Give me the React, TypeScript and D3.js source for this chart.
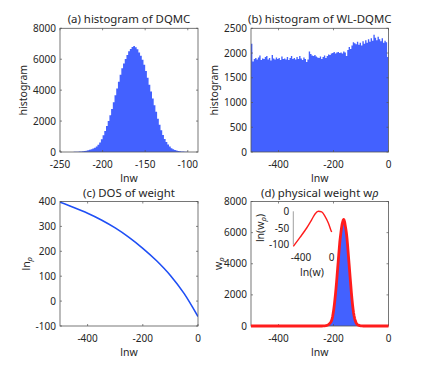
import * as d3 from "d3";
import React from "react";

// (a) DQMC histogram: bins of width 2 starting at -240
const histAStart = -240;
const histAWidth = 2;
const histACounts = [
  3, 5, 8, 11, 15, 20, 26, 35, 48, 66, 85, 112, 145, 180, 222, 275, 350, 470,
  620, 830, 1080, 1360, 1680, 2010, 2380, 2780, 3220, 3670, 4110, 4550, 4990,
  5420, 5720, 6020, 6280, 6510, 6660, 6790, 6850, 6780, 6640, 6430, 6220, 5960,
  5640, 5240, 4800, 4350, 3910, 3460, 3020, 2600, 2150, 1760, 1400, 1100, 840,
  640, 480, 350, 250, 180, 130, 95, 70, 52, 40, 28, 18, 12, 7, 4, 2,
];

// (b) WL-DQMC histogram: bins of width 5 from -500 to 0
const histBStart = -500;
const histBWidth = 5;
const histBCounts = [
  2190, 1830, 1880, 1900, 1870, 1910, 1950, 1860, 1890, 1880, 1920, 1940, 1870,
  1900, 1850, 1960, 1890, 1870, 1910, 1880, 1900, 1860, 1930, 1880, 1890, 1870,
  1920, 1860, 1900, 1940, 1880, 1900, 1870, 1920, 1880, 1940, 1890, 1860, 1910,
  1880, 1820, 1870, 2030, 1980, 1950, 1940, 1960, 1930, 1910, 1900, 1930, 1880,
  1920, 1950, 1900, 1940, 1970, 1960, 1990, 2000, 2020, 1990, 2010, 2020, 2000,
  2010, 1990, 2030, 2010, 1940, 2060, 2120, 2080, 2150, 2220, 2200, 2180, 2230,
  2170, 2210, 2150, 2240, 2190, 2260, 2210, 2280, 2230, 2300, 2250, 2370, 2310,
  2260, 2330, 2280, 2240, 2300, 2210, 2250, 2220, 1920,
];

// (c) DOS of weight
const dosLnw = [-500, -450, -400, -350, -300, -250, -200, -150, -100, -50, 0];
const dosLnRho = [397, 376, 353, 326, 294, 256, 212, 162, 103, 30, -62];

// (d) inset ln(w rho)
const insetLnw = [-500, -413, -326, -260, -217, -174, -130, -87, -44, -13, 0];
const insetLnWRho = [-105, -78, -50, -25, -8, 0, -2, -15, -35, -55, -62];

const ticksA = { x: [-250, -200, -150, -100], y: [0, 2000, 4000, 6000, 8000] };
const ticksB = { x: [-400, -200, 0], y: [0, 500, 1000, 1500, 2000, 2500] };
const ticksC = { x: [-400, -200, 0], y: [-100, 0, 100, 200, 300, 400] };
const ticksD = { x: [-400, -200, 0], y: [0, 2000, 4000, 6000, 8000] };
const ticksInset = { x: [-400, 0], y: [-100, -50, 0] };

const FONT = "'Noto Sans', 'Open Sans', sans-serif";
const TXT = "#262626";
const AX = "#555";
const BLUE_FILL = "#4361ff";
const BLUE_LINE = "#1f4ff5";
const RED = "#ff1c1c";

type Scale = d3.ScaleLinear<number, number>;

type PanelProps = {
  x0: number;
  x1: number;
  y0: number;
  y1: number;
  xDomain: [number, number];
  yDomain: [number, number];
  ticks: { x: number[]; y: number[] };
  title: React.ReactNode;
  ylabel: React.ReactNode;
  ylabelX: number;
  children: (x: Scale, y: Scale) => React.ReactNode;
  id: string;
};

function Panel(p: PanelProps) {
  const x = d3.scaleLinear().domain(p.xDomain).range([p.x0, p.x1]);
  const y = d3.scaleLinear().domain(p.yDomain).range([p.y1, p.y0]);
  const tl = 2;
  const cx = (p.x0 + p.x1) / 2;
  const cy = (p.y0 + p.y1) / 2;
  return (
    <g>
      <defs>
        <clipPath id={p.id}>
          <rect x={p.x0} y={p.y0} width={p.x1 - p.x0} height={p.y1 - p.y0} />
        </clipPath>
      </defs>
      <g clipPath={`url(#${p.id})`}>{p.children(x, y)}</g>
      <rect
        x={p.x0}
        y={p.y0}
        width={p.x1 - p.x0}
        height={p.y1 - p.y0}
        fill="none"
        stroke={AX}
        strokeWidth={0.8}
      />
      {p.ticks.x.map((t) => (
        <g key={"x" + t}>
          <line x1={x(t)} x2={x(t)} y1={p.y1} y2={p.y1 - tl} stroke={AX} strokeWidth={0.7} />
          <line x1={x(t)} x2={x(t)} y1={p.y0} y2={p.y0 + tl} stroke={AX} strokeWidth={0.7} />
          <text x={x(t)} y={p.y1 + 16} textAnchor="middle" fontSize={10} fill={TXT}>
            {t}
          </text>
        </g>
      ))}
      {p.ticks.y.map((t) => (
        <g key={"y" + t}>
          <line x1={p.x0} x2={p.x0 + tl} y1={y(t)} y2={y(t)} stroke={AX} strokeWidth={0.7} />
          <line x1={p.x1} x2={p.x1 - tl} y1={y(t)} y2={y(t)} stroke={AX} strokeWidth={0.7} />
          <text
            x={p.x0 - 4}
            y={y(t)}
            dy="0.35em"
            textAnchor="end"
            fontSize={10}
            fill={TXT}
          >
            {t}
          </text>
        </g>
      ))}
      <text x={cx} y={p.y0 - 5} textAnchor="middle" fontSize={11.4} fill={TXT}>
        {p.title}
      </text>
      <text x={cx} y={p.y1 + 30} textAnchor="middle" fontSize={10.5} fill={TXT}>
        lnw
      </text>
      <text
        transform={`translate(${p.ylabelX},${cy}) rotate(-90)`}
        textAnchor="middle"
        dy="0.35em"
        fontSize={10.5}
        fill={TXT}
      >
        {p.ylabel}
      </text>
    </g>
  );
}

// histogram drawn as one stepped area so neighbouring bins leave no seams
function Bars({
  start,
  width,
  counts,
  x,
  y,
}: {
  start: number;
  width: number;
  counts: number[];
  x: Scale;
  y: Scale;
}) {
  const pts: [number, number][] = counts.map((c, i) => [start + i * width, c]);
  pts.push([start + counts.length * width, counts[counts.length - 1]]);
  const area = d3
    .area<[number, number]>()
    .x((d) => x(d[0]))
    .y0(y(0))
    .y1((d) => y(d[1]))
    .curve(d3.curveStepAfter);
  return <path d={area(pts) || ""} fill={BLUE_FILL} />;
}

export default function App() {
  const redPts: [number, number][] = [
    [-500, 0],
    [histAStart - 1, 0],
    ...histACounts.map((c, i) => [histAStart + (i + 0.5) * histAWidth, c] as [number, number]),
    [histAStart + histACounts.length * histAWidth + 1, 0],
    [0, 0],
  ];
  const dosPts = dosLnw.map((v, i) => [v, dosLnRho[i]] as [number, number]);
  const insetPts = insetLnw.map((v, i) => [v, insetLnWRho[i]] as [number, number]);

  // inset scales
  const ix = d3.scaleLinear().domain([-500, 0]).range([293.3, 331.7]);
  const iy = d3.scaleLinear().domain([-100, 0]).range([244.7, 211.3]);
  const insetLine = d3
    .line<[number, number]>()
    .x((d) => ix(d[0]))
    .y((d) => iy(d[1]))
    .curve(d3.curveMonotoneX)(insetPts);

  const dx = d3.scaleLinear().domain([-500, 0]).range([251, 388.5]);
  const dy = d3.scaleLinear().domain([0, 8000]).range([326, 201.5]);
  const redPath = d3
    .line<[number, number]>()
    .x((p) => dx(p[0]))
    .y((p) => dy(p[1]))(redPts);

  return (
    <svg
      width={432}
      height={367}
      style={{ position: "absolute", left: 0, top: 0, background: "#fff" }}
      fontFamily={FONT}
    >
      <rect width={432} height={367} fill="#fff" />
      <Panel
        id="pa"
        x0={60}
        x1={198}
        y0={28.3}
        y1={152}
        xDomain={[-250, -88]}
        yDomain={[0, 8000]}
        ticks={ticksA}
        title="(a) histogram of DQMC"
        ylabel="histogram"
        ylabelX={23}
      >
        {(x, y) => (
          <Bars start={histAStart} width={histAWidth} counts={histACounts} x={x} y={y} />
        )}
      </Panel>
      <Panel
        id="pb"
        x0={251}
        x1={388.5}
        y0={28.3}
        y1={152}
        xDomain={[-500, 0]}
        yDomain={[0, 2500]}
        ticks={ticksB}
        title="(b) histogram of WL-DQMC"
        ylabel="histogram"
        ylabelX={214}
      >
        {(x, y) => (
          <Bars start={histBStart} width={histBWidth} counts={histBCounts} x={x} y={y} />
        )}
      </Panel>
      <Panel
        id="pc"
        x0={60}
        x1={198}
        y0={201.5}
        y1={326}
        xDomain={[-500, 0]}
        yDomain={[-100, 400]}
        ticks={ticksC}
        title="(c) DOS of weight"
        ylabel={
          <>
            ln
            <tspan fontStyle="italic" fontSize={8} dy="2">
              ρ
            </tspan>
          </>
        }
        ylabelX={26}
      >
        {(x, y) => (
          <path
            d={
              d3
                .line<[number, number]>()
                .x((d) => x(d[0]))
                .y((d) => y(d[1]))
                .curve(d3.curveMonotoneX)(dosPts) || ""
            }
            fill="none"
            stroke={BLUE_LINE}
            strokeWidth={1.6}
          />
        )}
      </Panel>
      <Panel
        id="pd"
        x0={251}
        x1={388.5}
        y0={201.5}
        y1={326}
        xDomain={[-500, 0]}
        yDomain={[0, 8000]}
        ticks={ticksD}
        title={
          <>
            (d) physical weight w<tspan fontStyle="italic">ρ</tspan>
          </>
        }
        ylabel={
          <>
            w
            <tspan fontStyle="italic" fontSize={8} dy="2">
              ρ
            </tspan>
          </>
        }
        ylabelX={218}
      >
        {(x, y) => (
          <Bars start={histAStart} width={histAWidth} counts={histACounts} x={x} y={y} />
        )}
      </Panel>
      {/* red curve over panel (d), not clipped so it covers the bottom axis */}
      <path
        d={redPath || ""}
        fill="none"
        stroke={RED}
        strokeWidth={2.8}
        strokeLinejoin="round"
      />
      {/* inset */}
      <g>
        <line x1={ix(-500)} x2={ix(-500)} y1={iy(0)} y2={iy(-100)} stroke="#888" strokeWidth={0.8} />
        {ticksInset.y.map((t) => (
          <text
            key={"iy" + t}
            x={ix(-500) - 4}
            y={iy(t)}
            dy="0.35em"
            textAnchor="end"
            fontSize={10}
            fill={TXT}
          >
            {t}
          </text>
        ))}
        {ticksInset.x.map((t) => (
          <text
            key={"ix" + t}
            x={ix(t)}
            y={iy(-100) + 16.5}
            textAnchor="middle"
            fontSize={10}
            fill={TXT}
          >
            {t}
          </text>
        ))}
        <path d={insetLine || ""} fill="none" stroke={RED} strokeWidth={1.4} />
        <text x={312} y={276} textAnchor="middle" fontSize={10.5} fill={TXT}>
          ln(w)
        </text>
        <text
          transform={`translate(260,228) rotate(-90)`}
          textAnchor="middle"
          dy="0.35em"
          fontSize={10.5}
          fill={TXT}
        >
          ln(w
          <tspan fontStyle="italic" fontSize={8} dy="2">
            ρ
          </tspan>
          <tspan dy="-2">)</tspan>
        </text>
      </g>
    </svg>
  );
}
